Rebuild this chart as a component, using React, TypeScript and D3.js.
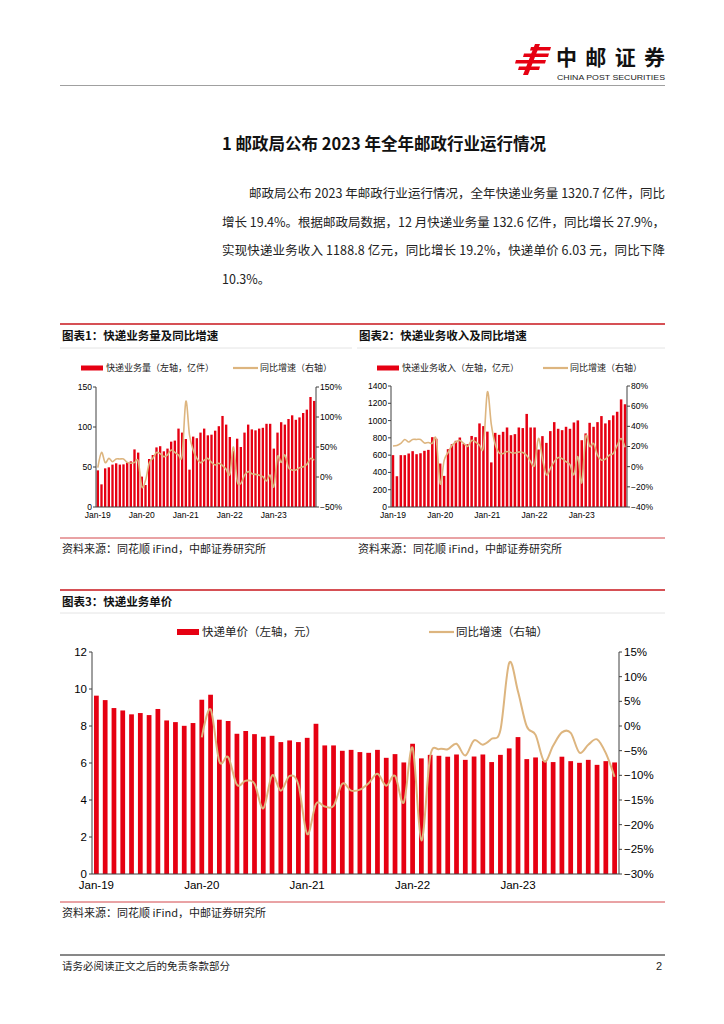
import React from "react";
import * as d3 from "d3";

// categories: monthly, Jan-19 .. Dec-23
const years = ["19", "20", "21", "22", "23"];
const monthNames = ["Jan", "Feb", "Mar", "Apr", "May", "Jun", "Jul", "Aug", "Sep", "Oct", "Nov", "Dec"];
const months: string[] = years.flatMap((y) => monthNames.map((m) => `${m}-${y}`));
const xTickLabels = ["Jan-19", "Jan-20", "Jan-21", "Jan-22", "Jan-23"];

// 图表1 快递业务量（亿件）及同比
const volume = [
  45.8, 28.3, 48.3, 49.6, 53.0, 54.6, 53.0, 53.3, 55.4, 57.0, 72.0, 68.0,
  38.0, 27.5, 60.0, 65.0, 74.5, 76.0, 69.6, 73.0, 81.7, 83.0, 98.0, 93.0,
  85.0, 46.7, 88.0, 86.0, 93.0, 98.0, 89.6, 90.4, 95.4, 101.0, 113.8, 103.0,
  87.5, 70.0, 85.4, 75.0, 93.0, 103.0, 97.0, 95.8, 98.0, 99.0, 104.0, 104.0,
  73.0, 93.0, 106.0, 103.0, 110.0, 114.6, 109.0, 112.0, 117.5, 121.7, 137.5, 132.6,
];
const volumeYoy = [
  15.5, 41, 24, 31, 25.5, 30, 30, 30, 24.4, 22.8, 24, 26.7,
  -16, -6, 22.8, 31, 41, 39, 34, 37, 45, 41, 36.7, 36,
  126, 70, 45, 31, 24, 28, 31, 24.4, 20, 23, 19, 13,
  4.4, 50, -6.7, -10.5, 3, 9, 5.5, 4.4, 3, 0.5, -6.7, 3,
  -16, 34, 24.4, 36.7, 15.5, 11.7, 11.7, 15.5, 17, 21, 31, 27.9,
];

// 图表2 快递业务收入（亿元）及同比
const revenue = [
  600, 356, 600, 600, 619, 646, 611, 622, 650, 661, 808, 790,
  503, 360, 669, 727, 766, 804, 730, 727, 822, 808, 967, 936,
  872, 516, 858, 835, 870, 920, 831, 843, 920, 913, 1077, 920,
  920, 665, 820, 742, 878, 982, 905, 889, 928, 905, 978, 1002,
  773, 851, 974, 928, 982, 1052, 967, 1005, 1060, 1102, 1245, 1189,
];
const revenueYoy = [
  20.5, 21, 23, 27, 24.5, 27, 27, 27, 23.5, 24, 23, 27,
  -17, 6, 14, 21, 24.5, 26, 23, 20, 26, 24.5, 21.4, 19.7,
  74, 42, 22, 13.5, 13, 15, 14, 13.5, 14.5, 14, 11, 5,
  1.5, 28, 8, -8, -2, 5, 9, 8, 5, 2, -8, 10,
  -16, 30, 20, 23, 11.4, 6.5, 7.5, 11.4, 13, 21, 28, 19.2,
];

// 图表3 快递单价（元）及同比
const price = [
  9.64, 9.40, 8.97, 8.84, 8.63, 8.70, 8.59, 8.92, 8.30, 8.21, 8.01, 8.16,
  9.42, 9.69, 8.34, 8.27, 7.58, 7.73, 7.56, 7.42, 7.47, 7.13, 7.22, 7.13,
  7.36, 8.12, 6.95, 6.95, 6.66, 6.71, 6.59, 6.55, 6.71, 6.28, 6.48, 6.03,
  7.04, 6.25, 6.44, 6.39, 6.34, 6.46, 6.17, 6.35, 6.46, 6.05, 6.44, 6.79,
  7.40, 6.21, 6.30, 6.12, 6.05, 6.34, 6.10, 6.01, 6.17, 5.90, 6.10, 6.03,
];
const priceYoy: (number | null)[] = [
  null, null, null, null, null, null, null, null, null, null, null, null,
  -2.3, 3.4, -7.2, -6.3, -11.9, -11.1, -11.7, -16.7, -10.0, -13.1, -10.1, -11.9,
  -21.9, -15.8, -16.3, -16.2, -11.7, -13.1, -12.9, -11.6, -9.7, -12.1, -10.1, -15.5,
  -4.4, -23.2, -6.2, -4.7, -4.7, -3.6, -6.0, -2.9, -3.8, -2.6, -0.8, 12.8,
  7.0, -0.1, -1.8, -7.2, -4.0, -1.3, -1.4, -5.4, -3.8, -2.7, -5.5, -10.3,
];

const RED = "#E60012";
const TAN = "#DDB57F";
const RULE = "#C8161D";
const CJK = '"Noto Sans CJK SC", "Noto Sans", sans-serif';
const NUM = '"Liberation Sans", Arial, sans-serif';
const AXIS = "#404040";

const pct = (v: number) => (v < 0 ? `\u2212${Math.abs(v)}%` : `${v}%`);

type ComboProps = {
  left: number;
  right: number;
  top: number;
  bottom: number;
  bars: number[];
  yoy: (number | null)[];
  yMax: number;
  yStep: number;
  gMin: number;
  gMax: number;
  gStep: number;
  fontSize: number;
  pad: number;
  lineWidth: number;
  labelGap: number;
};

const Combo: React.FC<ComboProps> = (p) => {
  const x = d3
    .scaleBand<string>()
    .domain(months)
    .range([p.left, p.right])
    .paddingInner(p.pad)
    .paddingOuter(p.pad / 2);
  const y = d3.scaleLinear().domain([0, p.yMax]).range([p.bottom, p.top]);
  const g = d3.scaleLinear().domain([p.gMin, p.gMax]).range([p.bottom, p.top]);
  const cx = (m: string) => (x(m) as number) + x.bandwidth() / 2;

  const yTicks = d3.range(0, p.yMax + p.yStep / 2, p.yStep);
  const gTicks = d3.range(p.gMin, p.gMax + p.gStep / 2, p.gStep);

  const pts = months.map((m, i) => [m, p.yoy[i]] as [string, number | null]);
  const line = d3
    .line<[string, number | null]>()
    .defined((d) => d[1] != null)
    .x((d) => cx(d[0]))
    .y((d) => g(d[1] as number))
    .curve(d3.curveCardinal.tension(0));

  return (
    <g>
      {months.map((m, i) => (
        <rect
          key={m}
          x={x(m)}
          width={x.bandwidth()}
          y={y(p.bars[i])}
          height={p.bottom - y(p.bars[i])}
          fill={RED}
        />
      ))}
      <path d={line(pts) || ""} fill="none" stroke={TAN} strokeWidth={p.lineWidth} />
      {/* axes */}
      <line x1={p.left} x2={p.left} y1={p.top} y2={p.bottom} stroke={AXIS} />
      <line x1={p.right} x2={p.right} y1={p.top} y2={p.bottom} stroke={AXIS} />
      <line x1={p.left} x2={p.right} y1={p.bottom} y2={p.bottom} stroke={AXIS} />
      {yTicks.map((t) => (
        <g key={"l" + t}>
          <line x1={p.left - 3} x2={p.left} y1={y(t)} y2={y(t)} stroke={AXIS} />
          <text
            x={p.left - p.labelGap}
            y={y(t)}
            dy="0.35em"
            textAnchor="end"
            fontSize={p.fontSize}
            fontFamily={NUM}
          >
            {t}
          </text>
        </g>
      ))}
      {gTicks.map((t) => (
        <g key={"r" + t}>
          <line x1={p.right} x2={p.right + 3} y1={g(t)} y2={g(t)} stroke={AXIS} />
          <text
            x={p.right + p.labelGap}
            y={g(t)}
            dy="0.35em"
            fontSize={p.fontSize}
            fontFamily={NUM}
          >
            {pct(t)}
          </text>
        </g>
      ))}
      {xTickLabels.map((lab) => (
        <text
          key={lab}
          x={cx(lab)}
          y={p.bottom + p.fontSize * 1.3}
          textAnchor="middle"
          fontSize={p.fontSize}
          fontFamily={NUM}
        >
          {lab}
        </text>
      ))}
    </g>
  );
};

type LegendProps = { x: number; y: number; lineX: number; size: number; barH: number; barLabel: string; lineLabel: string };
const Legend: React.FC<LegendProps> = ({ x, y, lineX, size, barH, barLabel, lineLabel }) => (
  <g fontFamily={CJK} fontSize={size} fill="#222">
    <rect x={x} y={y - barH / 2} width={22} height={barH} fill={RED} />
    <text x={x + 25} y={y} dy="0.36em">{barLabel}</text>
    <line x1={lineX} x2={lineX + 25} y1={y} y2={y} stroke={TAN} strokeWidth={2.2} />
    <text x={lineX + 27} y={y} dy="0.36em">{lineLabel}</text>
  </g>
);

const Logo: React.FC = () => (
  <g>
    <g fill={RED}>
      <polygon points="531,47 551,47 550,50.5 530,50.5" />
      <polygon points="524,53.5 549,53.5 548,57 523,57" />
      <polygon points="516,60 546,60 545,63.5 515,63.5" />
      <polygon points="519,66.5 540,66.5 539,70 518,70" />
      <polygon points="535,44 540,44 528,75 523,75" />
    </g>
    <text x={556} y={65} fontFamily={CJK} fontWeight={700} fontSize={21} textLength={109} lengthAdjust="spacing" fill="#111">
      中邮证券
    </text>
    <text x={557} y={80} fontFamily={NUM} fontSize={7.5} textLength={108} lengthAdjust="spacingAndGlyphs" fill="#222">
      CHINA POST SECURITIES
    </text>
    <line x1={60} x2={665} y1={85.5} y2={85.5} stroke="#888" strokeWidth={0.8} />
  </g>
);

const paragraph = [
  { x: 249, text: "邮政局公布 2023 年邮政行业运行情况，全年快递业务量 1320.7 亿件，同比", justify: true },
  { x: 222, text: "增长 19.4%。根据邮政局数据，12 月快递业务量 132.6 亿件，同比增长 27.9%，", justify: true },
  { x: 222, text: "实现快递业务收入 1188.8 亿元，同比增长 19.2%，快递单价 6.03 元，同比下降", justify: true },
  { x: 222, text: "10.3%。", justify: false },
];

const SOURCE = "资料来源：同花顺 iFind，中邮证券研究所";

export default function App() {
  return (
    <svg
      width={724}
      height={1024}
      style={{ position: "absolute", left: 0, top: 0, background: "#fff" }}
    >
      <rect width={724} height={1024} fill="#fff" />
      <Logo />

      <text x={222} y={150} fontFamily={CJK} fontWeight={700} fontSize={16.5} fill="#111">
        1 邮政局公布 2023 年全年邮政行业运行情况
      </text>
      {paragraph.map((l, i) => (
        <text
          key={i}
          x={l.x}
          y={198 + i * 28.7}
          fontFamily={CJK}
          fontSize={12.5}
          fill="#222"
          textLength={l.justify ? 665 - l.x : undefined}
          lengthAdjust="spacing"
        >
          {l.text}
        </text>
      ))}

      {/* 图表1 / 图表2 frame */}
      <line x1={60} x2={665} y1={324} y2={324} stroke={RULE} strokeWidth={1.6} />
      <line x1={60} x2={352} y1={348} y2={348} stroke="#ddd" strokeWidth={0.8} />
      <line x1={357} x2={665} y1={348} y2={348} stroke="#ddd" strokeWidth={0.8} />
      <text x={62} y={340} fontFamily={CJK} fontWeight={700} fontSize={11.5} fill="#111">
        图表1：快递业务量及同比增速
      </text>
      <text x={359} y={340} fontFamily={CJK} fontWeight={700} fontSize={11.5} fill="#111">
        图表2：快递业务收入及同比增速
      </text>

      <Legend x={81} y={368} lineX={233} size={9} barH={5} barLabel="快递业务量（左轴，亿件）" lineLabel="同比增速（右轴）" />
      <Combo
        left={96}
        right={316}
        top={387}
        bottom={507}
        bars={volume}
        yoy={volumeYoy}
        yMax={150}
        yStep={50}
        gMin={-50}
        gMax={150}
        gStep={50}
        fontSize={8.5}
        pad={0.36}
        lineWidth={1.6}
        labelGap={4}
      />

      <Legend x={377} y={368} lineX={543} size={9} barH={5} barLabel="快递业务收入（左轴，亿元）" lineLabel="同比增速（右轴）" />
      <Combo
        left={391}
        right={627}
        top={386}
        bottom={507}
        bars={revenue}
        yoy={revenueYoy}
        yMax={1400}
        yStep={200}
        gMin={-40}
        gMax={80}
        gStep={20}
        fontSize={8.5}
        pad={0.36}
        lineWidth={1.6}
        labelGap={4}
      />

      <line x1={60} x2={665} y1={538} y2={538} stroke={RULE} strokeWidth={0.8} />
      <text x={62} y={553} fontFamily={CJK} fontSize={11} fill="#222">{SOURCE}</text>
      <text x={358} y={553} fontFamily={CJK} fontSize={11} fill="#222">{SOURCE}</text>

      {/* 图表3 */}
      <line x1={60} x2={665} y1={590} y2={590} stroke={RULE} strokeWidth={1.6} />
      <text x={62} y={606} fontFamily={CJK} fontWeight={700} fontSize={11.5} fill="#111">
        图表3：快递业务单价
      </text>
      <line x1={60} x2={665} y1={613} y2={613} stroke="#ddd" strokeWidth={0.8} />
      <Legend x={177} y={632} lineX={429} size={11.5} barH={6} barLabel="快递单价（左轴，元）" lineLabel="同比增速（右轴）" />
      <Combo
        left={92}
        right={619}
        top={652}
        bottom={874}
        bars={price}
        yoy={priceYoy}
        yMax={12}
        yStep={2}
        gMin={-30}
        gMax={15}
        gStep={5}
        fontSize={11.5}
        pad={0.46}
        lineWidth={2}
        labelGap={5}
      />
      <line x1={60} x2={665} y1={902} y2={902} stroke={RULE} strokeWidth={0.8} />
      <text x={62} y={917} fontFamily={CJK} fontSize={11} fill="#222">{SOURCE}</text>

      {/* footer */}
      <line x1={60} x2={665} y1={955} y2={955} stroke="#111" strokeWidth={1} />
      <text x={62} y={970} fontFamily={CJK} fontSize={10.5} fill="#222">
        请务必阅读正文之后的免责条款部分
      </text>
      <text x={656} y={970} fontFamily={NUM} fontSize={11} fill="#222">2</text>
    </svg>
  );
}
